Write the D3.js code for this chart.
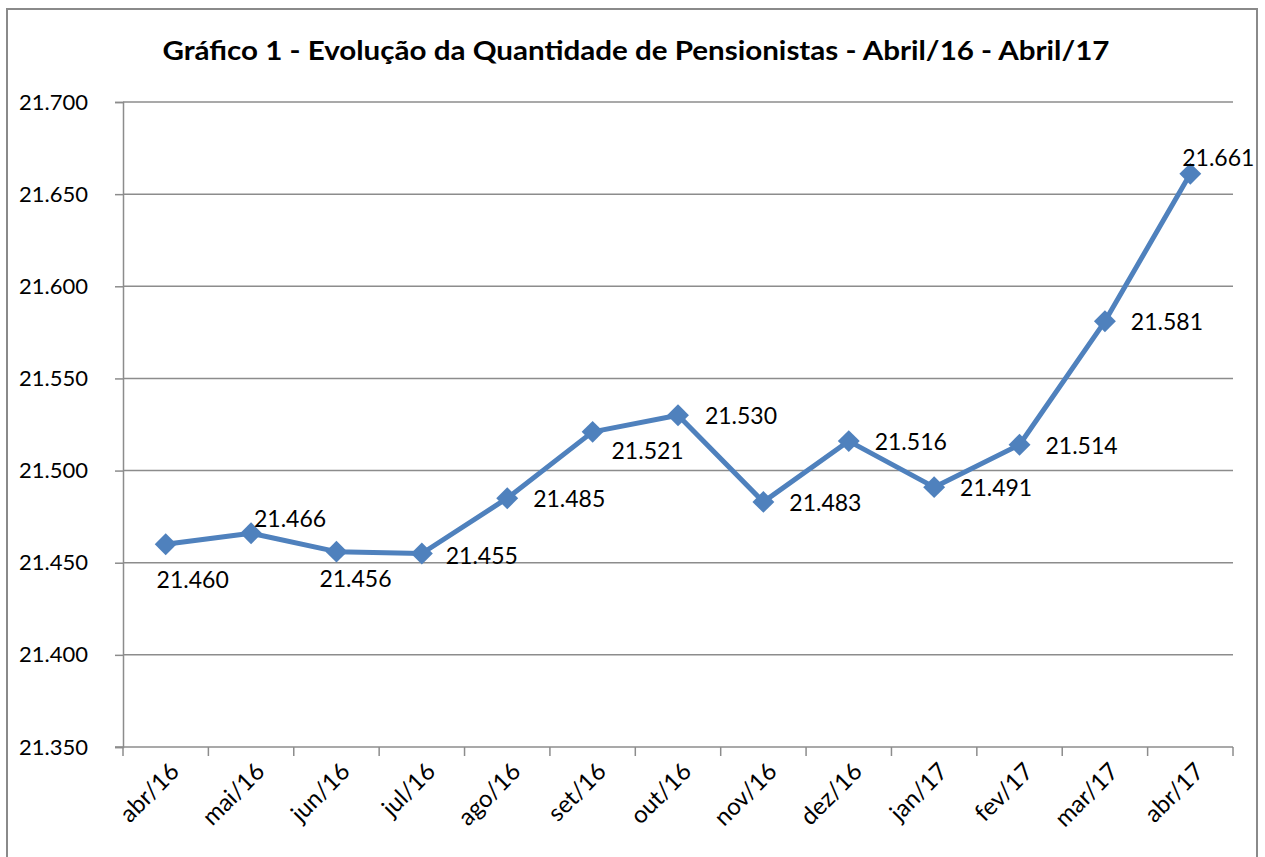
<!DOCTYPE html>
<html>
<head>
<meta charset="utf-8">
<script src="https://cdn.jsdelivr.net/npm/d3@7"></script>
<style>
  body { margin: 0; background: #fff; }
  svg text { font-family: Lato, "Open Sans", sans-serif; fill: #000; }
</style>
</head>
<body>
<svg id="chart" width="1265" height="857"></svg>
<script>
// data
var months = ["abr/16", "mai/16", "jun/16", "jul/16", "ago/16", "set/16", "out/16",
              "nov/16", "dez/16", "jan/17", "fev/17", "mar/17", "abr/17"];
var pensionistas = [21460, 21466, 21456, 21455, 21485, 21521, 21530,
                    21483, 21516, 21491, 21514, 21581, 21661];
var yTicks = [21350, 21400, 21450, 21500, 21550, 21600, 21650, 21700];
// label placement (offset of label centre from the point)
var labelDx = [27, 39, 19, 60, 62, 55, 63, 62, 62, 62, 62, 62, 28];
var labelDy = [36, -14, 27, 2, 1, 19, 1, 1, 1, 1, 1, 1, -16];

var svg = d3.select("#chart"),
    plotLeft = 123, plotRight = 1233, plotTop = 102, plotBottom = 747;

var fmt = function (v) { return d3.format(",")(v).replace(",", "."); };

// outer frame
svg.append("rect")
    .attr("x", 7).attr("y", 9)
    .attr("width", 1250).attr("height", 900)
    .attr("fill", "none")
    .attr("stroke", "#8a8a8a")
    .attr("stroke-width", 2);

svg.append("text")
    .attr("x", 636).attr("y", 60)
    .attr("text-anchor", "middle")
    .attr("font-size", 26)
    .attr("font-weight", "bold")
    .attr("textLength", 947)
    .attr("lengthAdjust", "spacingAndGlyphs")
    .text("Gráfico 1 - Evolução da Quantidade de Pensionistas - Abril/16 - Abril/17");

var x = d3.scaleBand().domain(months).range([plotLeft, plotRight]);
var y = d3.scaleLinear().domain([21350, 21700]).range([plotBottom, plotTop]);

// gridlines
svg.append("g")
    .selectAll("line")
    .data(yTicks.slice(1))
    .enter().append("line")
    .attr("x1", plotLeft).attr("x2", plotRight)
    .attr("y1", function (d) { return y(d); })
    .attr("y2", function (d) { return y(d); })
    .attr("stroke", "#8c8c8c")
    .attr("stroke-width", 1.5);

// y axis
var yAxis = svg.append("g")
    .attr("transform", "translate(" + plotLeft + ",0)")
    .call(d3.axisLeft(y).tickValues(yTicks).tickFormat(fmt).tickSize(8).tickPadding(27));
yAxis.select(".domain").attr("stroke", "#8c8c8c").attr("stroke-width", 1.5);
yAxis.selectAll(".tick line").attr("stroke", "#8c8c8c").attr("stroke-width", 1.5);
yAxis.selectAll("text").attr("font-size", 22).attr("font-family", "Lato, sans-serif").attr("fill", "#000");

// x axis
var xAxis = svg.append("g")
    .attr("transform", "translate(0," + plotBottom + ")");
xAxis.append("line")
    .attr("x1", plotLeft - 8).attr("x2", plotRight)
    .attr("stroke", "#8c8c8c").attr("stroke-width", 1.5);
xAxis.selectAll(".xtick")
    .data(months.map(function (m) { return x(m); }).concat([plotRight]))
    .enter().append("line")
    .attr("x1", function (d) { return d; })
    .attr("x2", function (d) { return d; })
    .attr("y1", 0).attr("y2", 9)
    .attr("stroke", "#8c8c8c").attr("stroke-width", 1.5);
xAxis.selectAll(".xlabel")
    .data(months)
    .enter().append("text")
    .attr("transform", function (d) {
        return "translate(" + (x(d) + x.bandwidth() / 2 + 9) + ",20) rotate(-45)";
    })
    .attr("text-anchor", "end")
    .attr("font-size", 24)
    .attr("dy", "0.35em")
    .text(function (d) { return d; });

var pts = months.map(function (m, i) {
    return { m: m, v: pensionistas[i], dx: labelDx[i], dy: labelDy[i] };
});

var line = d3.line()
    .x(function (d) { return x(d.m) + x.bandwidth() / 2; })
    .y(function (d) { return y(d.v); });

svg.append("path")
    .datum(pts)
    .attr("d", line)
    .attr("fill", "none")
    .attr("stroke", "#4f81bd")
    .attr("stroke-width", 5)
    .attr("stroke-linejoin", "round");

svg.append("g")
    .selectAll("path")
    .data(pts)
    .enter().append("path")
    .attr("d", d3.symbol().type(d3.symbolSquare).size(240))
    .attr("transform", function (d) {
        return "translate(" + (x(d.m) + x.bandwidth() / 2) + "," + y(d.v) + ") rotate(45)";
    })
    .attr("fill", "#4f81bd");

svg.append("g")
    .selectAll("text")
    .data(pts)
    .enter().append("text")
    .attr("x", function (d) { return x(d.m) + x.bandwidth() / 2 + d.dx; })
    .attr("y", function (d) { return y(d.v) + d.dy; })
    .attr("text-anchor", "middle")
    .attr("dy", "0.35em")
    .attr("font-size", 23)
    .text(function (d) { return fmt(d.v); });
</script>
</body>
</html>
